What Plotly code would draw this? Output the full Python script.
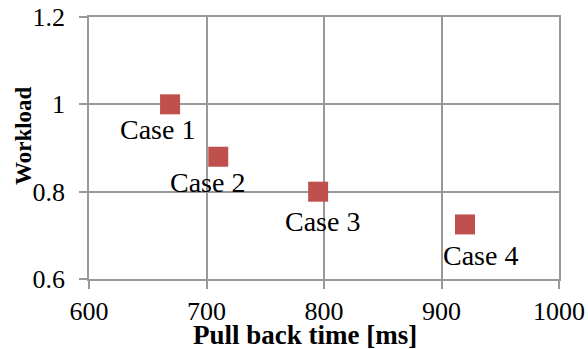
import plotly.graph_objects as go

# Pull back time vs. workload for the four cases
cases = ["Case 1", "Case 2", "Case 3", "Case 4"]
pull_back_ms = [669, 710, 795, 920]
workload = [1.0, 0.88, 0.80, 0.725]

# Label offsets (pixels) relative to each marker
label_dx = [-13, -11, 4, 15]
label_dy = [-25, -26, -30, -31]

x_ticks = [600, 700, 800, 900, 1000]
y_ticks = [0.6, 0.8, 1.0, 1.2]
y_ticktext = ["0.6", "0.8", "1", "1.2"]

FONT = "Liberation Serif"
GRID = "#999999"

# Plot area in pixels
ML, MR, MT, MB = 89, 29, 17, 70
W, H = 588, 349
PW, PH = W - ML - MR, H - MT - MB

fig = go.Figure()
fig.add_trace(go.Scatter(
    x=pull_back_ms, y=workload, mode="markers",
    marker=dict(symbol="square", size=20, color="#C0504D",
                line=dict(width=0)),
    showlegend=False, hoverinfo="skip",
))

for name, xv, yv, dx, dy in zip(cases, pull_back_ms, workload, label_dx, label_dy):
    fig.add_annotation(x=xv, y=yv, text=name, showarrow=False,
                       xshift=dx, yshift=dy,
                       font=dict(family=FONT, size=28, color="black"))

# Axis titles placed by pixel position
fig.add_annotation(x=(305 - ML) / PW, y=1 - (335 - MT) / PH, xref="paper", yref="paper",
                   xanchor="center", yanchor="middle",
                   text="<b>Pull back time [ms]</b>", showarrow=False,
                   font=dict(family=FONT, size=27, color="black"))
fig.add_annotation(x=(23 - ML) / PW, y=1 - (136 - MT) / PH, xref="paper", yref="paper",
                   xanchor="center", yanchor="middle",
                   text="<b>Workload</b>", textangle=-90, showarrow=False,
                   font=dict(family=FONT, size=23, color="black"))

axis_common = dict(
    showgrid=True, gridcolor=GRID, gridwidth=1.5,
    showline=True, linecolor=GRID, linewidth=1.5, mirror=True,
    ticks="outside", ticklen=8, tickcolor=GRID, tickwidth=1.5,
    tickfont=dict(family=FONT, size=26, color="black"),
    zeroline=False, automargin=False,
)

fig.update_xaxes(range=[600, 1000], tickvals=x_ticks, **axis_common)
fig.update_yaxes(range=[0.6, 1.2], tickvals=y_ticks, ticktext=y_ticktext,
                 ticklabelstandoff=9, **axis_common)

fig.update_layout(
    width=W, height=H,
    margin=dict(l=ML, r=MR, t=MT, b=MB),
    paper_bgcolor="white", plot_bgcolor="white",
    font=dict(family=FONT),
)

fig.write_html("out.html")
